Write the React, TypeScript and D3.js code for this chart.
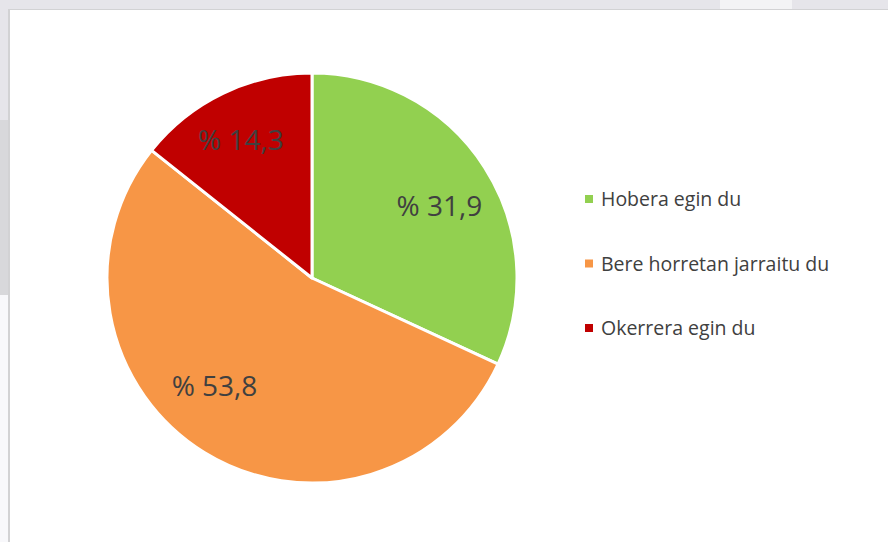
import React from "react";
import * as d3 from "d3";

const categories = ["Hobera egin du", "Bere horretan jarraitu du", "Okerrera egin du"];
const values = [31.9, 53.8, 14.3];
const labels = ["% 31,9", "% 53,8", "% 14,3"];
const colors = ["#92d050", "#f79646", "#c00000"];
const labelNudge: [number, number][] = [[3, 7], [-20, -18], [-7, -6]];

export default function App() {
  const W = 888, H = 542;
  const cx = 312, cy = 278, r = 205;
  const pie = d3.pie<number>().sort(null).value((d) => d);
  const arcs = pie(values);
  const arc = d3.arc<d3.PieArcDatum<number>>().innerRadius(0).outerRadius(r);
  const labelArc = d3.arc<d3.PieArcDatum<number>>().innerRadius(r * 0.72).outerRadius(r * 0.72);
  const font = "'Open Sans', sans-serif";
  return (
    <svg width={W} height={H} style={{ position: "absolute", left: 0, top: 0 }}>
      <rect x={0} y={0} width={W} height={H} fill="#e6e5ea" />
      <rect x={720} y={0} width={72} height={9} fill="#f3f3f5" />
      <rect x={0} y={120} width={9} height={175} fill="#d8d8db" />
      <rect x={0} y={295} width={9} height={H - 295} fill="#f8f8fb" />
      <rect x={8} y={9} width={W - 8} height={H - 9} fill="#d2d2d4" />
      <rect x={10} y={10} width={W - 10} height={H - 10} fill="#ffffff" />
      <g transform={`translate(${cx},${cy})`}>
        {arcs.map((a, i) => (
          <path key={i} d={arc(a) || ""} fill={colors[i]} stroke="#ffffff" strokeWidth={3} strokeLinejoin="round" />
        ))}
        {arcs.map((a, i) => {
          const [x, y] = labelArc.centroid(a);
          return (
            <text key={i} x={x + labelNudge[i][0]} y={y + labelNudge[i][1] + 10.5} textAnchor="middle"
              fontFamily={font} fontSize={28} fill="#404040">{labels[i]}</text>
          );
        })}
      </g>
      {categories.map((c, i) => (
        <g key={i} transform={`translate(585, ${199 + i * 64.5})`}>
          <rect x={0} y={-4} width={8} height={8} fill={colors[i]} />
          <text x={16} y={7.3} fontFamily={font} fontSize={19.5} fill="#404040">{c}</text>
        </g>
      ))}
    </svg>
  );
}
